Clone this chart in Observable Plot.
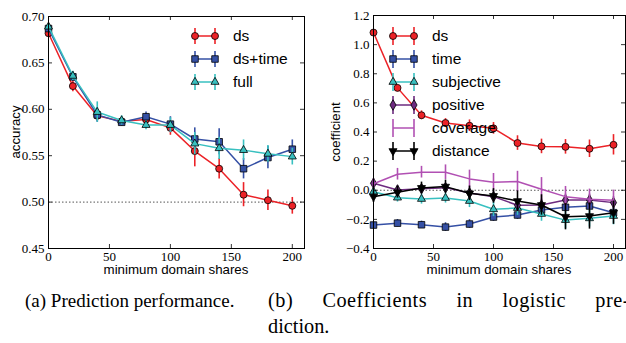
<!DOCTYPE html>
<html><head><meta charset="utf-8">
<script src="https://cdn.jsdelivr.net/npm/d3@7"></script>
<script src="https://cdn.jsdelivr.net/npm/@observablehq/plot@0.6"></script>
<style>
html,body{margin:0;padding:0;background:#fff;}
body{overflow:hidden;width:626px;height:343px;position:relative;}
#a,#b{position:absolute;top:0}
#a{left:0}#b{left:315px}
.lab{position:absolute;font-family:"Liberation Sans",Arial,sans-serif;font-size:13.3px;color:#000;white-space:nowrap;line-height:1;transform:translate(-50%,-50%)}
.rot{transform:translate(-50%,-50%) rotate(-90deg)}
.cap{position:absolute;font-family:"Liberation Serif","Times New Roman",serif;font-size:19px;white-space:nowrap;line-height:1}
.capb{font-size:20.3px}
.just{white-space:normal;text-align:justify;text-align-last:justify;width:362px;letter-spacing:0.5px}
</style></head><body>
<div id="a"></div><div id="b"></div>
<div class="lab" style="left:176px;top:270px">minimum domain shares</div>
<div class="lab" style="left:499px;top:270px">minimum domain shares</div>
<div class="lab rot" style="left:16px;top:132px">accuracy</div>
<div class="lab rot" style="left:336px;top:132px">coefficient</div>
<div class="cap" style="left:25px;top:291px">(a) Prediction performance.</div>
<div class="cap capb just" style="left:268px;top:290px">(b) Coefficients in logistic pre-</div>
<div class="cap capb" style="left:268px;top:316px">diction.</div>
<script>
// ---------- data ----------
const shares = [0, 20, 40, 60, 80, 100, 120, 140, 160, 180, 200];
const xTickValues = [0, 50, 100, 150, 200];

// (a) accuracy
const accNames = ["ds", "ds+time", "full"];
const accDs       = [0.682, 0.625, 0.593, 0.587, 0.589, 0.580, 0.555, 0.536, 0.508, 0.502, 0.496];
const accDsErr    = [0.003, 0.006, 0.006, 0.004, 0.005, 0.008, 0.017, 0.011, 0.013, 0.011, 0.009];
const accDsTime   = [0.687, 0.635, 0.594, 0.586, 0.592, 0.584, 0.568, 0.565, 0.536, 0.548, 0.557];
const accDsTimeErr= [0.003, 0.005, 0.008, 0.004, 0.005, 0.008, 0.012, 0.014, 0.011, 0.012, 0.010];
const accFull     = [0.689, 0.636, 0.597, 0.588, 0.583, 0.583, 0.563, 0.558, 0.556, 0.552, 0.549];
const accFullErr  = [0.003, 0.005, 0.011, 0.005, 0.005, 0.008, 0.012, 0.012, 0.011, 0.009, 0.009];
const accYTicks = [0.45, 0.50, 0.55, 0.60, 0.65, 0.70];
const accBaseline = [0.5];

// (b) coefficients
const coefNames = ["ds", "time", "subjective", "positive", "coverage", "distance"];
const coefDs      = [1.083, 0.703, 0.515, 0.462, 0.443, 0.425, 0.324, 0.301, 0.298, 0.285, 0.312];
const coefDsErr   = [0.02, 0.02, 0.03, 0.03, 0.04, 0.04, 0.05, 0.05, 0.05, 0.06, 0.07];
const coefTime    = [-0.239, -0.226, -0.237, -0.253, -0.232, -0.184, -0.170, -0.136, -0.117, -0.108, -0.154];
const coefTimeErr = [0.02, 0.025, 0.025, 0.03, 0.03, 0.03, 0.03, 0.03, 0.03, 0.03, 0.03];
const coefSubj    = [-0.010, -0.051, -0.060, -0.053, -0.074, -0.131, -0.122, -0.163, -0.205, -0.193, -0.177];
const coefSubjErr = [0.03, 0.03, 0.035, 0.035, 0.045, 0.05, 0.05, 0.05, 0.06, 0.06, 0.06];
const coefPos     = [0.048, 0.002, 0.011, 0.018, -0.019, -0.044, -0.103, -0.101, -0.067, -0.067, -0.085];
const coefPosErr  = [0.03, 0.03, 0.03, 0.03, 0.035, 0.035, 0.04, 0.04, 0.04, 0.04, 0.04];
const coefCov     = [0.045, 0.110, 0.124, 0.124, 0.078, 0.055, 0.060, 0.007, -0.044, -0.062, -0.069];
const coefCovErr  = [0.03, 0.04, 0.04, 0.05, 0.06, 0.06, 0.07, 0.08, 0.07, 0.07, 0.07];
const coefDist    = [-0.044, -0.014, 0.016, 0.025, -0.021, -0.039, -0.074, -0.101, -0.182, -0.177, -0.154];
const coefDistErr = [0.04, 0.04, 0.04, 0.045, 0.05, 0.05, 0.07, 0.07, 0.09, 0.09, 0.08];
const coefYTicks = [-0.4, -0.2, 0.0, 0.2, 0.4, 0.6, 0.8, 1.0, 1.2];
const coefBaseline = [0];

// ---------- styles ----------
const RED = "#ec2227", BLUE = "#3550a5", CYAN = "#38c0c0", PURPLE = "#6d2b7f", ORCHID = "#b150b3", BLACK = "#000000";
const SYM = {circle: d3.symbolCircle, square: d3.symbolSquare, triangle: d3.symbolTriangle, diamond: d3.symbolDiamond};

function series(vals, errs, color, symbol, r, rotate) {
  const d = shares.map((x, i) => ({x, y: vals[i], lo: vals[i] - errs[i], hi: vals[i] + errs[i]}));
  const m = [
    Plot.line(d, {x: "x", y: "y", stroke: color, strokeWidth: 1.5}),
    Plot.ruleX(d, {x: "x", y1: "lo", y2: "hi", stroke: color, strokeWidth: 1.6})
  ];
  if (symbol) m.push(Plot.dot(d, {x: "x", y: "y", symbol, r, fill: color, stroke: "#000", strokeWidth: 0.8, rotate: rotate || 0}));
  return m;
}

function frameTicks(yTicks, innerW, innerH) {
  return [
    Plot.tickX(xTickValues, {x: d => d, insetTop: innerH - 4, stroke: "#000", strokeWidth: 0.8}),
    Plot.tickX(xTickValues, {x: d => d, insetBottom: innerH - 4, stroke: "#000", strokeWidth: 0.8}),
    Plot.tickY(yTicks, {y: d => d, insetRight: innerW - 4, stroke: "#000", strokeWidth: 0.8}),
    Plot.tickY(yTicks, {y: d => d, insetLeft: innerW - 4, stroke: "#000", strokeWidth: 0.8})
  ];
}

function legend(svg, entries, x1, x2, tx, y0, dy, barH) {
  const g = d3.select(svg).append("g");
  entries.forEach((e, i) => {
    const y = y0 + i * dy;
    g.append("line").attr("x1", x1).attr("x2", x2).attr("y1", y).attr("y2", y)
      .attr("stroke", e.color).attr("stroke-width", 1.5);
    for (const x of [x1, x2]) {
      g.append("line").attr("x1", x).attr("x2", x).attr("y1", y - barH).attr("y2", y + barH)
        .attr("stroke", e.color).attr("stroke-width", 1.6);
      if (e.symbol) {
        g.append("path").attr("d", d3.symbol(SYM[e.symbol], Math.PI * e.r * e.r)())
          .attr("transform", `translate(${x},${y}) rotate(${e.rotate || 0})`)
          .attr("fill", e.color).attr("stroke", "#000").attr("stroke-width", 0.8);
      }
    }
    g.append("text").attr("x", tx).attr("y", y).attr("dy", "0.35em")
      .attr("text-anchor", "start")
      .attr("font-family", "'Liberation Sans', Arial, sans-serif").attr("font-size", 15.5)
      .attr("fill", "#000").text(e.name);
  });
}

// ---------- (a) ----------
const aH = 280, aTop = 16, aBottom = 32, aLeft = 48, aRight = 11, aW = 315;
const plotA = Plot.plot({
  width: aW, height: aH, marginTop: aTop, marginBottom: aBottom, marginLeft: aLeft, marginRight: aRight,
  style: {fontFamily: "'Liberation Serif','Times New Roman',serif", fontSize: "13px", background: "transparent", color: "#000"},
  x: {domain: [0, 210]},
  y: {domain: [0.45, 0.70]},
  marks: [
    Plot.axisX({ticks: xTickValues, tickSize: 0, tickPadding: 3, tickFormat: d => String(d), label: null}),
    Plot.axisY({ticks: accYTicks, tickSize: 0, tickPadding: 4, tickFormat: d3.format(".2f"), label: null}),
    Plot.ruleY(accBaseline, {stroke: "#555", strokeDasharray: "1.5,2", strokeWidth: 1}),
    ...series(accDs, accDsErr, RED, "circle", 3.5),
    ...series(accDsTime, accDsTimeErr, BLUE, "square", 3.7),
    ...series(accFull, accFullErr, CYAN, "triangle", 3.0),
    ...frameTicks(accYTicks, aW - aLeft - aRight, aH - aTop - aBottom),
    Plot.frame({stroke: "#000", strokeWidth: 1})
  ]
});
legend(plotA, [
  {name: accNames[0], color: RED, symbol: "circle", r: 3.5},
  {name: accNames[1], color: BLUE, symbol: "square", r: 3.7},
  {name: accNames[2], color: CYAN, symbol: "triangle", r: 3.0}
], 195, 215, 233, 36, 23, 8);
document.getElementById("a").append(plotA);

// ---------- (b) ----------
const bH = 280, bTop = 15, bBottom = 32, bLeft = 58, bRight = 1, bW = 311;
const plotB = Plot.plot({
  width: bW, height: bH, marginTop: bTop, marginBottom: bBottom, marginLeft: bLeft, marginRight: bRight,
  style: {fontFamily: "'Liberation Serif','Times New Roman',serif", fontSize: "13px", background: "transparent", color: "#000", overflow: "visible"},
  x: {domain: [0, 210]},
  y: {domain: [-0.4, 1.2]},
  marks: [
    Plot.axisX({ticks: xTickValues, tickSize: 0, tickPadding: 3, tickFormat: d => String(d), label: null}),
    Plot.axisY({ticks: coefYTicks, tickSize: 0, tickPadding: 4, tickFormat: d => d.toFixed(1).replace("-", "\u2212"), label: null}),
    Plot.ruleY(coefBaseline, {stroke: "#555", strokeDasharray: "1.5,2", strokeWidth: 1}),
    ...series(coefDs, coefDsErr, RED, "circle", 3.5),
    ...series(coefTime, coefTimeErr, BLUE, "square", 3.7),
    ...series(coefSubj, coefSubjErr, CYAN, "triangle", 3.0),
    ...series(coefPos, coefPosErr, PURPLE, "diamond", 3.2),
    ...series(coefCov, coefCovErr, ORCHID, null),
    ...series(coefDist, coefDistErr, BLACK, "triangle", 3.0, 180),
    ...frameTicks(coefYTicks, bW - bLeft - bRight, bH - bTop - bBottom),
    Plot.frame({stroke: "#000", strokeWidth: 1})
  ]
});
legend(plotB, [
  {name: coefNames[0], color: RED, symbol: "circle", r: 3.5},
  {name: coefNames[1], color: BLUE, symbol: "square", r: 3.7},
  {name: coefNames[2], color: CYAN, symbol: "triangle", r: 3.0},
  {name: coefNames[3], color: PURPLE, symbol: "diamond", r: 3.2},
  {name: coefNames[4], color: ORCHID, symbol: null},
  {name: coefNames[5], color: BLACK, symbol: "triangle", r: 3.0, rotate: 180}
], 78, 99, 117, 36, 23, 9);
document.getElementById("b").append(plotB);
</script>
</body></html>
